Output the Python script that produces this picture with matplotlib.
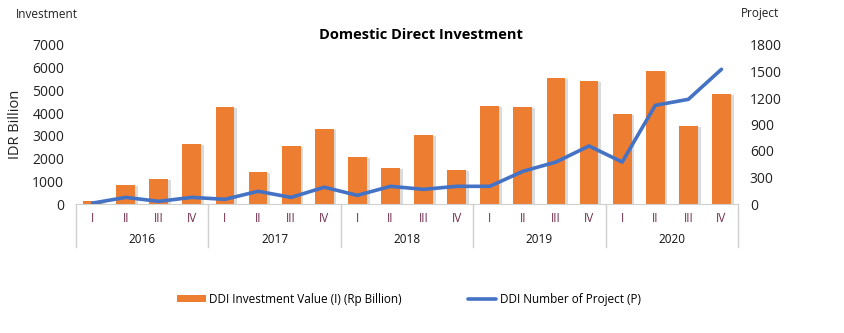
import matplotlib
matplotlib.use("Agg")
import matplotlib.pyplot as plt
import matplotlib.patheffects as pe
from matplotlib.patches import Patch
import numpy as np

plt.rcParams["font.family"] = ["Open Sans", "DejaVu Sans"]

# ── Data ──────────────────────────────────────────────────────────────────────
years = ["2016", "2017", "2018", "2019", "2020"]
quarters = ["I", "II", "III", "IV"]

investment = [130, 840, 1100, 2640,
              4280, 1410, 2550, 3300,
              2070, 1590, 3040, 1500,
              4310, 4270, 5560, 5420,
              3960, 5860, 3430, 4840]

projects = [10, 75, 30, 75,
            53, 144, 75, 190,
            98, 200, 166, 200,
            200, 370, 475, 657,
            475, 1117, 1185, 1525]

ORANGE = "#ED7D31"
BLUE = "#4472C4"
GRID_GRAY = "#D0D0D0"

# ── Figure ────────────────────────────────────────────────────────────────────
fig = plt.figure(figsize=(8.44, 3.33), dpi=100)
ax = fig.add_axes([76 / 844, 1 - 204 / 333, (738 - 76) / 844, (204 - 45) / 333])
ax2 = ax.twinx()

x = np.arange(len(investment))
bars = ax.bar(x, investment, width=0.57, color=ORANGE, zorder=2)
for b in bars:
    b.set_path_effects([pe.SimplePatchShadow(offset=(2, -1), shadow_rgbFace="#888888", alpha=0.3),
                        pe.Normal()])

line, = ax2.plot(x, projects, color=BLUE, lw=2.6, solid_capstyle="round", zorder=3)

ax.set_xlim(-0.5, len(investment) - 0.5)
ax.set_ylim(0, 7000)
ax2.set_ylim(0, 1800)
ax.set_yticks(range(0, 7001, 1000))
ax2.set_yticks(range(0, 1801, 300))

for a in (ax, ax2):
    for s in a.spines.values():
        s.set_visible(False)
    a.tick_params(axis="y", length=0, labelsize=10, colors="#222222", pad=8.5)
ax.spines["bottom"].set_visible(True)
ax.spines["bottom"].set_color(GRID_GRAY)

# quarter labels
ax.set_xticks(x)
ax.set_xticklabels(quarters * len(years), fontsize=8.5, color="#70304f")
ax.tick_params(axis="x", length=0, pad=6)

# year labels and group separators
trans = ax.get_xaxis_transform()
for i, yr in enumerate(years):
    ax.text(i * 4 + 1.5, -0.225, yr, transform=trans, ha="center", va="center",
            fontsize=8.5, color="#111111")
for k in range(len(years) + 1):
    ax.plot([k * 4 - 0.5, k * 4 - 0.5], [0, -0.27], transform=trans, color=GRID_GRAY,
            lw=1, clip_on=False)

ax.set_ylabel("IDR Billion", fontsize=10.5, color="#222222")
ax.yaxis.set_label_coords(-0.08, 0.5)

fig.text(421 / 844, 1 - 35 / 333, "Domestic Direct Investment", ha="center", va="center",
         fontsize=10.5, fontweight="bold", color="#000000")
fig.text(16 / 844, 1 - 14 / 333, "Investment", ha="left", va="center", fontsize=8.5, color="#222222")
fig.text(741 / 844, 1 - 14 / 333, "Project", ha="left", va="center", fontsize=8.5, color="#222222")

handles = [Patch(facecolor=ORANGE, edgecolor="none"), line]
labels = ["DDI Investment Value (I) (Rp Billion)", "DDI Number of Project (P)"]
fig.legend(handles, labels, loc="center", bbox_to_anchor=(409 / 844, 1 - 299 / 333), ncol=2,
           frameon=False, fontsize=8.5, columnspacing=5.6, handlelength=2.4,
           handleheight=0.55, handletextpad=0.3)

fig.savefig("out.png", dpi=100)
